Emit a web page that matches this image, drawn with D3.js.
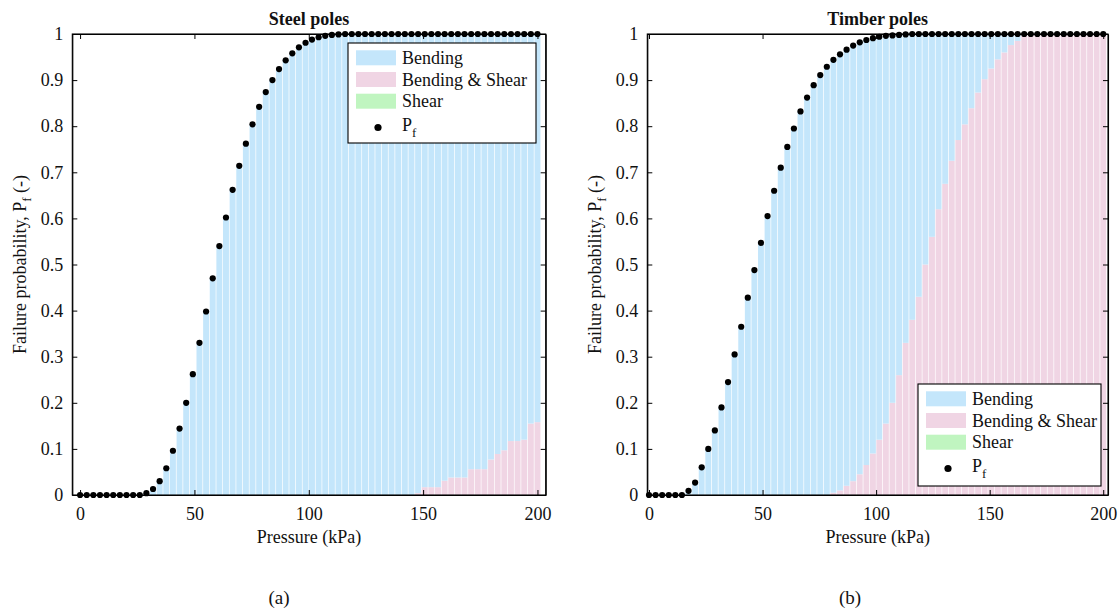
<!DOCTYPE html>
<html><head><meta charset="utf-8">
<script src="https://cdn.jsdelivr.net/npm/d3@7"></script>
<style>
body{margin:0;background:#fff}
svg text{font-family:"Liberation Serif","DejaVu Serif","Noto Serif",serif !important;fill:#111}
</style>
</head><body>
<svg id="c" width="1118" height="613"></svg>
<script>
// ---------------- data ----------------
const pressure = [0,2.9,5.8,8.7,11.6,14.5,17.4,20.3,23.2,26.1,29.0,31.9,34.8,37.7,40.6,43.5,46.4,49.3,52.2,55.1,
  58.0,60.9,63.8,66.7,69.6,72.5,75.4,78.3,81.2,84.1,87.0,89.9,92.8,95.7,98.6,101.4,104.3,107.2,110.1,113.0,
  115.9,118.8,121.7,124.6,127.5,130.4,133.3,136.2,139.1,142.0,144.9,147.8,150.7,153.6,156.5,159.4,162.3,165.2,168.1,171.0,
  173.9,176.8,179.7,182.6,185.5,188.4,191.3,194.2,197.1,200.0];

const seriesNames = ["Bending", "Bending & Shear", "Shear"];
const xTicks = [0, 50, 100, 150, 200];
const yTicks = [0, 0.1, 0.2, 0.3, 0.4, 0.5, 0.6, 0.7, 0.8, 0.9, 1];

// Steel poles
const steelPf = [0,0,0,0,0,0,0,0,0,0,
  0.004,0.013,0.030,0.058,0.096,0.144,0.200,0.262,0.330,0.398,
  0.470,0.540,0.602,0.662,0.714,0.762,0.804,0.842,0.874,0.900,
  0.924,0.943,0.958,0.971,0.981,0.988,0.993,0.996,0.998,0.999,
  1,1,1,1,1,1,1,1,1,1, 1,1,1,1,1,1,1,1,1,1, 1,1,1,1,1,1,1,1,1,1];
const steelBendingShear = [0,0,0,0,0,0,0,0,0,0, 0,0,0,0,0,0,0,0,0,0, 0,0,0,0,0,0,0,0,0,0,
  0,0,0,0,0,0,0,0,0,0, 0,0,0,0,0,0,0,0,0,0, 0,
  0.004,0.017,0.017,0.017,0.031,0.038,0.038,0.038,0.056,0.056,0.056,0.077,0.089,0.097,0.117,0.117,0.120,0.155,0.158];
const steelBending = [0,0,0,0,0,0,0,0,0,0,
  0.004,0.013,0.030,0.058,0.096,0.144,0.200,0.262,0.330,0.398,
  0.470,0.540,0.602,0.662,0.714,0.762,0.804,0.842,0.874,0.900,
  0.924,0.943,0.958,0.971,0.981,0.988,0.993,0.996,0.998,0.999,
  1,1,1,1,1,1,1,1,1,1,1,
  0.996,0.983,0.983,0.983,0.969,0.962,0.962,0.962,0.944,0.944,0.944,0.923,0.911,0.903,0.883,0.883,0.880,0.845,0.842];
const steelShear = [0,0,0,0,0,0,0,0,0,0, 0,0,0,0,0,0,0,0,0,0, 0,0,0,0,0,0,0,0,0,0,
  0,0,0,0,0,0,0,0,0,0, 0,0,0,0,0,0,0,0,0,0, 0,0,0,0,0,0,0,0,0,0, 0,0,0,0,0,0,0,0,0,0];

// Timber poles
const timberPf = [0,0,0,0,0,0,
  0.009,0.027,0.060,0.100,0.140,0.190,0.245,0.305,0.365,0.428,
  0.488,0.547,0.605,0.660,0.710,0.755,0.795,0.832,0.862,0.889,
  0.911,0.929,0.944,0.956,0.966,0.975,0.982,0.987,0.991,0.994,
  0.996,0.997,0.998,0.999,
  1,1,1,1,1,1,1,1,1,1, 1,1,1,1,1,1,1,1,1,1, 1,1,1,1,1,1,1,1,1,1];
const timberBendingShear = [0,0,0,0,0,0,0,0,0,0, 0,0,0,0,0,0,0,0,0,0, 0,0,0,0,0,0,0,0,
  0.005,0.010,0.020,0.030,0.045,0.065,0.090,0.120,0.155,0.200,
  0.260,0.330,0.380,0.430,0.500,0.560,0.620,0.675,0.725,0.770,
  0.804,0.839,0.873,0.902,0.925,0.945,0.960,0.976,0.985,0.997,
  1,1,1,1,1,1,1,1,1,1,1,1];
const timberBending = [0,0,0,0,0,0,
  0.009,0.027,0.060,0.100,0.140,0.190,0.245,0.305,0.365,0.428,
  0.488,0.547,0.605,0.660,0.710,0.755,0.795,0.832,0.862,0.889,
  0.911,0.929,
  0.939,0.946,0.946,0.945,0.937,0.922,0.901,0.874,0.841,0.797,
  0.738,0.669,0.620,0.570,0.500,0.440,0.380,0.325,0.275,0.230,
  0.196,0.161,0.127,0.098,0.075,0.055,0.040,0.024,0.015,0.003,
  0,0,0,0,0,0,0,0,0,0,0,0];
const timberShear = [0,0,0,0,0,0,0,0,0,0, 0,0,0,0,0,0,0,0,0,0, 0,0,0,0,0,0,0,0,0,0,
  0,0,0,0,0,0,0,0,0,0, 0,0,0,0,0,0,0,0,0,0, 0,0,0,0,0,0,0,0,0,0, 0,0,0,0,0,0,0,0,0,0];

// ---------------- layout / style ----------------
const colors = {"Bending":"#c4e6fb", "Bending & Shear":"#f0d5e4", "Shear":"#c0f5c0"};
const FONT = "'Liberation Serif','DejaVu Serif','Noto Serif',serif";
const plotTop = 34, plotBottom = 495;
const panels = [
  {title:"Steel poles", pf:steelPf, series:{"Bending":steelBending,"Bending & Shear":steelBendingShear,"Shear":steelShear},
   left:72.3, right:545.7, xdom:[-3.4,203.6], legend:{x:348,y:43,w:188,h:100}, sub:"(a)", subX:279, ylabX:25.5},
  {title:"Timber poles", pf:timberPf, series:{"Bending":timberBending,"Bending & Shear":timberBendingShear,"Shear":timberShear},
   left:647.3, right:1108, xdom:[-0.75,202.1], legend:{x:918,y:384,w:183,h:102}, sub:"(b)", subX:850, ylabX:601}
];
const stackOrder = ["Bending & Shear", "Bending", "Shear"];

const svg = d3.select("#c").attr("font-family", FONT);

panels.forEach((p, pi) => {
  const x = d3.scaleLinear().domain(p.xdom).range([p.left, p.right]);
  const y = d3.scaleLinear().domain([0, 1]).range([plotBottom, plotTop]);
  const g = svg.append("g");
  const clipId = "clip" + pi;
  svg.append("clipPath").attr("id", clipId).append("rect")
    .attr("x", p.left).attr("y", plotTop).attr("width", p.right - p.left).attr("height", plotBottom - plotTop);

  const bw = x(pressure[1]) - x(pressure[0]);
  const bars = g.append("g").attr("clip-path", `url(#${clipId})`);
  const base = pressure.map(() => 0);
  stackOrder.forEach(name => {
    const vals = p.series[name];
    bars.append("g").selectAll("rect").data(pressure).join("rect")
      .attr("x", (d) => x(d) - bw / 2 + 0.35)
      .attr("width", bw - 0.7)
      .attr("y", (d, i) => y(base[i] + vals[i]))
      .attr("height", (d, i) => Math.max(0, y(base[i]) - y(base[i] + vals[i])))
      .attr("fill", colors[name]);
    vals.forEach((v, i) => base[i] += v);
  });

  g.append("g").selectAll("circle").data(pressure).join("circle")
    .attr("cx", d => x(d)).attr("cy", (d, i) => y(p.pf[i])).attr("r", 3.1).attr("fill", "#000");

  const fmt = d => d3.format("~g")(d);
  const axB = g.append("g").attr("transform", `translate(0,${plotBottom})`)
    .call(d3.axisBottom(x).tickValues(xTicks).tickSize(-5).tickSizeOuter(0).tickPadding(12).tickFormat(fmt));
  const axT = g.append("g").attr("transform", `translate(0,${plotTop})`)
    .call(d3.axisTop(x).tickValues(xTicks).tickSize(-5).tickSizeOuter(0).tickFormat(""));
  const axL = g.append("g").attr("transform", `translate(${p.left},0)`)
    .call(d3.axisLeft(y).tickValues(yTicks).tickSize(-5).tickSizeOuter(0).tickPadding(9).tickFormat(fmt));
  const axR = g.append("g").attr("transform", `translate(${p.right},0)`)
    .call(d3.axisRight(y).tickValues(yTicks).tickSize(-5).tickSizeOuter(0).tickFormat(""));
  [axB, axT, axL, axR].forEach(a => {
    a.attr("font-family", FONT).attr("font-size", 18);
    a.selectAll("path.domain").attr("stroke", "#000").attr("stroke-width", 1.1);
    a.selectAll(".tick line").attr("stroke", "#000").attr("stroke-width", 1);
    a.selectAll("text").attr("fill", "#111");
  });
  g.append("rect").attr("x", p.left).attr("y", plotTop).attr("width", p.right - p.left).attr("height", plotBottom - plotTop)
    .attr("fill", "none").attr("stroke", "#000").attr("stroke-width", 1.1);

  const cx = (p.left + p.right) / 2;
  g.append("text").attr("x", cx).attr("y", 25).attr("text-anchor", "middle")
    .attr("font-size", 18).attr("font-weight", "bold").text(p.title);
  g.append("text").attr("x", cx).attr("y", 543).attr("text-anchor", "middle")
    .attr("font-size", 18).text("Pressure (kPa)");
  const yl = g.append("text").attr("transform", `translate(${p.ylabX},${(plotTop + plotBottom) / 2}) rotate(-90)`)
    .attr("text-anchor", "middle").attr("font-size", 18);
  yl.append("tspan").text("Failure probability, P");
  yl.append("tspan").attr("font-size", 13).attr("dy", 5).text("f");
  yl.append("tspan").attr("dy", -5).text(" (-)");
  g.append("text").attr("x", p.subX).attr("y", 604).attr("text-anchor", "middle")
    .attr("font-size", 19).text(p.sub);

  const L = p.legend;
  const lg = g.append("g").attr("transform", `translate(${L.x},${L.y})`);
  lg.append("rect").attr("width", L.w).attr("height", L.h).attr("fill", "#fff").attr("stroke", "#000").attr("stroke-width", 1.1);
  const rowY = [14.8, 36.5, 58.2];
  seriesNames.forEach((name, k) => {
    lg.append("rect").attr("x", 8).attr("y", rowY[k] - 7.5).attr("width", 40).attr("height", 15).attr("fill", colors[name]);
    lg.append("text").attr("x", 54).attr("y", rowY[k] + 6).attr("font-size", 18).text(name);
  });
  lg.append("circle").attr("cx", 30).attr("cy", 84.5).attr("r", 3.6).attr("fill", "#000");
  const pt = lg.append("text").attr("x", 54).attr("y", 88).attr("font-size", 18);
  pt.append("tspan").text("P");
  pt.append("tspan").attr("font-size", 13).attr("dy", 6).text("f");
});
</script>
</body></html>
